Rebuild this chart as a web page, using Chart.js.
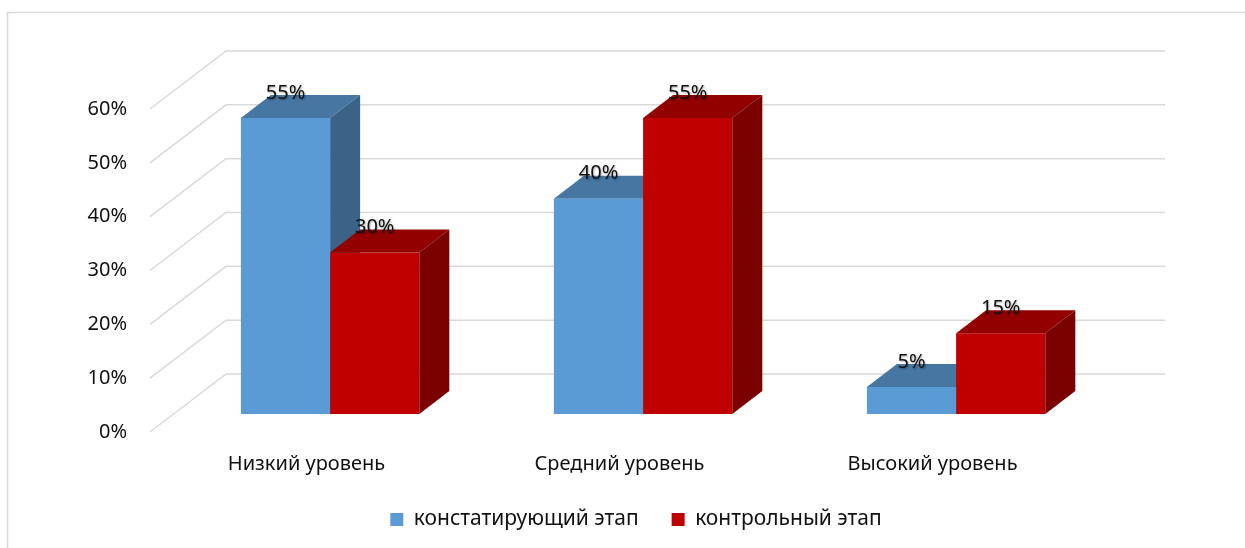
<!DOCTYPE html>
<html>
<head>
<meta charset="utf-8">
<script src="https://cdn.jsdelivr.net/npm/chart.js@4.4.1/dist/chart.umd.min.js"></script>
<style>
  html, body { margin: 0; padding: 0; background: #fff; }
  #wrap { width: 1245px; height: 548px; position: relative; }
</style>
</head>
<body>
<div id="wrap"><canvas id="chart" width="1245" height="548"></canvas></div>
<script>
// data
const categories = ['Низкий уровень', 'Средний уровень', 'Высокий уровень'];
const seriesNames = ['констатирующий этап', 'контрольный этап'];
const stage1 = [55, 40, 5];
const stage2 = [30, 55, 15];
const yTicks = [0, 10, 20, 30, 40, 50, 60];

const FONT = '"Noto Sans", "DejaVu Sans", sans-serif';

// 3d look: back wall offset, bar plane offset, bar depth
const WALL = { dx: 76, dy: 58 };
const PLANE = { dx: 23.6, dy: 18 };
const DEPTH = { dx: 30, dy: 23 };

const faces = [
    { top: '#4676a2', side: '#3b6388' },
    { top: '#920000', side: '#7b0000' }
];

function drawFaces(ctx, meta, f) {
    meta.data.forEach(bar => {
        const p = bar.getProps(['x', 'y', 'base', 'width'], true);
        const l = p.x - p.width / 2, r = p.x + p.width / 2;
        ctx.fillStyle = f.top;
        ctx.beginPath();
        ctx.moveTo(l, p.y);
        ctx.lineTo(r, p.y);
        ctx.lineTo(r + DEPTH.dx, p.y - DEPTH.dy);
        ctx.lineTo(l + DEPTH.dx, p.y - DEPTH.dy);
        ctx.closePath();
        ctx.fill();
        ctx.fillStyle = f.side;
        ctx.beginPath();
        ctx.moveTo(r, p.y);
        ctx.lineTo(r + DEPTH.dx, p.y - DEPTH.dy);
        ctx.lineTo(r + DEPTH.dx, p.base - DEPTH.dy);
        ctx.lineTo(r, p.base);
        ctx.closePath();
        ctx.fill();
    });
}

const frame3d = {
    id: 'frame3d',
    beforeDraw(chart) {
        const ctx = chart.ctx;
        ctx.save();
        ctx.strokeStyle = '#d9d9d9';
        ctx.lineWidth = 1.5;
        ctx.strokeRect(7.5, 12.5, 1400, 700);
        ctx.restore();
    },
    beforeDatasetsDraw(chart) {
        const ctx = chart.ctx;
        const area = chart.chartArea;
        const y = chart.scales.y;
        ctx.save();
        ctx.strokeStyle = '#d9d9d9';
        ctx.lineWidth = 1.5;
        yTicks.forEach(v => {
            const yf = y.getPixelForValue(v);
            ctx.beginPath();
            ctx.moveTo(area.left, yf);
            ctx.lineTo(area.left + WALL.dx, yf - WALL.dy);
            ctx.lineTo(area.right + WALL.dx, yf - WALL.dy);
            ctx.stroke();
        });
        ctx.restore();
    },
    // chart.js paints the red series first, so the blue top/side faces
    // go in just before it and the red fronts end up covering them
    beforeDatasetDraw(chart, args) {
        const ctx = chart.ctx;
        ctx.save();
        ctx.translate(PLANE.dx, -PLANE.dy);
        if (args.index === 1) drawFaces(ctx, chart.getDatasetMeta(0), faces[0]);
    },
    afterDatasetDraw(chart, args) {
        const ctx = chart.ctx;
        if (args.index === 1) drawFaces(ctx, args.meta, faces[1]);
        ctx.restore();
    },
    afterDatasetsDraw(chart) {
        const ctx = chart.ctx;
        ctx.save();
        ctx.font = '20px ' + FONT;
        ctx.textAlign = 'center';
        ctx.textBaseline = 'middle';
        ctx.fillStyle = '#111';
        ctx.shadowColor = 'rgba(0,0,0,0.35)';
        ctx.shadowOffsetX = 1;
        ctx.shadowOffsetY = 1;
        ctx.shadowBlur = 2;
        chart.data.datasets.forEach((ds, i) => {
            chart.getDatasetMeta(i).data.forEach((bar, j) => {
                const p = bar.getProps(['x', 'y'], true);
                ctx.fillText(ds.data[j] + '%', p.x + PLANE.dx, p.y - PLANE.dy - 25);
            });
        });
        ctx.restore();
    }
};

const ctx = document.getElementById('chart').getContext('2d');
new Chart(ctx, {
    type: 'bar',
    data: {
        labels: categories,
        datasets: [
            { label: seriesNames[0], data: stage1, backgroundColor: '#5b9bd5' },
            { label: seriesNames[1], data: stage2, backgroundColor: '#c00000' }
        ]
    },
    options: {
        responsive: false,
        animation: false,
        layout: { padding: { top: 109, right: 0, bottom: 8, left: 27 } },
        datasets: { bar: { categoryPercentage: 0.57, barPercentage: 1 } },
        scales: {
            x: {
                grid: { display: false },
                border: { display: false },
                ticks: { color: '#111', font: { family: FONT, size: 20 }, padding: 12 },
                afterFit: s => { s.height = 44; }
            },
            y: {
                min: 0,
                max: 60,
                grid: { display: false },
                border: { display: false },
                ticks: {
                    stepSize: 10,
                    color: '#111',
                    padding: 15,
                    font: { family: FONT, size: 20 },
                    callback: v => v + '%'
                },
                afterFit: s => { s.width = 123; }
            },
            // empty right axis only keeps room for the back wall
            y2: {
                position: 'right',
                grid: { display: false },
                border: { display: false },
                ticks: { display: false },
                afterFit: s => { s.width = 156; }
            }
        },
        plugins: {
            legend: {
                position: 'bottom',
                labels: {
                    color: '#111',
                    boxWidth: 13,
                    boxHeight: 13,
                    padding: 33,
                    font: { family: FONT, size: 21 }
                }
            },
            tooltip: { enabled: false }
        }
    },
    plugins: [frame3d]
});
</script>
</body>
</html>
